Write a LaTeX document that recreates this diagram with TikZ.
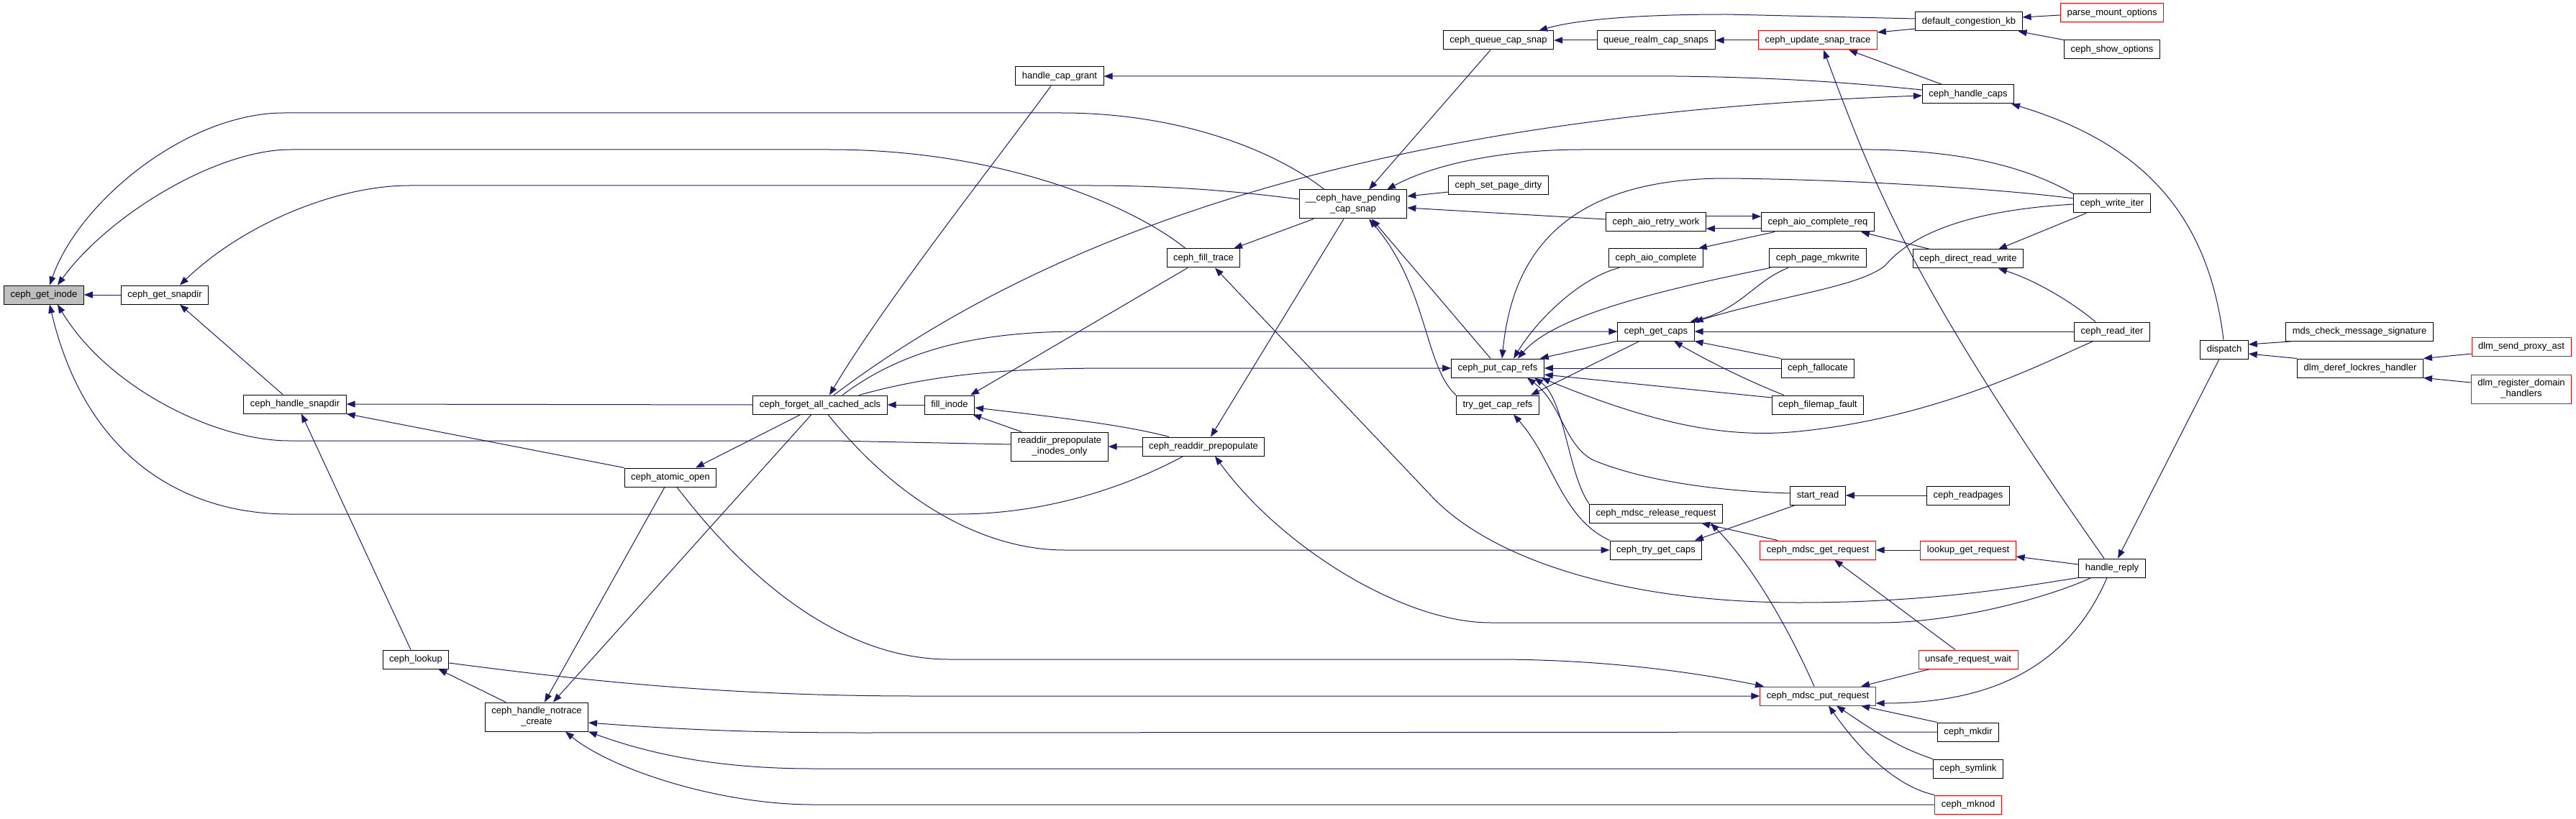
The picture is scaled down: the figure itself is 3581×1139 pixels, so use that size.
\documentclass[tikz,border=0pt]{standalone}
\usepackage{fontspec}
\setmainfont{Liberation Sans}
\usetikzlibrary{arrows.meta}
\definecolor{edgeblue}{RGB}{25,25,112}
\definecolor{rootgrey}{RGB}{191,191,191}
\tikzset{
  fn/.style={draw=black, line width=1pt, fill=white, font=\fontsize{13pt}{15pt}\selectfont,
    minimum height=26pt, inner xsep=9pt, inner ysep=2pt},
  fnred/.style={fn, draw=red},
  fnroot/.style={fn, fill=rootgrey},
  twoline/.style={align=center, minimum height=40pt},
  call/.style={draw=edgeblue, line width=1pt, {Triangle[length=12pt,width=9pt]}-},
}
\begin{document}
\begin{tikzpicture}[x=1pt, y=-1pt]
\useasboundingbox (0,0) rectangle (3581,1139);
% functions
\node[fnroot] (ginode) at (61,410) {ceph\_get\_inode};
\node[fn] (getsnapdir) at (229,410) {ceph\_get\_snapdir};
\node[fn] (handlesnapdir) at (410,562) {ceph\_handle\_snapdir};
\node[fn] (lookup) at (578,917) {ceph\_lookup};
\node[fn, twoline] (notrace) at (746,997) {ceph\_handle\_notrace\\\_create};
\node[fn] (atomicopen) at (932,664) {ceph\_atomic\_open};
\node[fn] (forgetacls) at (1140,563) {ceph\_forget\_all\_cached\_acls};
\node[fn] (capgrant) at (1473,106) {handle\_cap\_grant};
\node[fn] (fillinode) at (1320,563) {fill\_inode};
\node[fn, twoline] (prepinodes) at (1473,621) {readdir\_prepopulate\\\_inodes\_only};
\node[fn] (readdirprep) at (1673,621) {ceph\_readdir\_prepopulate};
\node[fn] (filltrace) at (1673,359) {ceph\_fill\_trace};
\node[fn, twoline] (havesnap) at (1881,284) {\_\_ceph\_have\_pending\\\_cap\_snap};
\node[fn] (queuesnap) at (2083,56) {ceph\_queue\_cap\_snap};
\node[fn] (setdirty) at (2083,258) {ceph\_set\_page\_dirty};
\node[fn] (putrefs) at (2082,512) {ceph\_put\_cap\_refs};
\node[fn] (trygetrefs) at (2082,563) {try\_get\_cap\_refs};
\node[fn] (realmsnaps) at (2302,56) {queue\_realm\_cap\_snaps};
\node[fn] (retrywork) at (2302,309) {ceph\_aio\_retry\_work};
\node[fn] (aiocomplete) at (2302,359) {ceph\_aio\_complete};
\node[fn] (getcaps) at (2302,461) {ceph\_get\_caps};
\node[fn] (releasereq) at (2302,714) {ceph\_mdsc\_release\_request};
\node[fn] (trygetcaps) at (2302,765) {ceph\_try\_get\_caps};
\node[fnred] (updatesnap) at (2527,56) {ceph\_update\_snap\_trace};
\node[fn] (completereq) at (2527,309) {ceph\_aio\_complete\_req};
\node[fn] (mkwrite) at (2527,359) {ceph\_page\_mkwrite};
\node[fn] (fallocate) at (2527,512) {ceph\_fallocate};
\node[fn] (filemapfault) at (2527,563) {ceph\_filemap\_fault};
\node[fn] (startread) at (2527,689) {start\_read};
\node[fnred] (getreq) at (2527,765) {ceph\_mdsc\_get\_request};
\node[fnred] (putreq) at (2527,968) {ceph\_mdsc\_put\_request};
\node[fn] (congestion) at (2737,30) {default\_congestion\_kb};
\node[fn] (handlecaps) at (2736,131) {ceph\_handle\_caps};
\node[fn] (directrw) at (2736,360) {ceph\_direct\_read\_write};
\node[fn] (readpages) at (2736,689) {ceph\_readpages};
\node[fnred] (lookupreq) at (2736,765) {lookup\_get\_request};
\node[fnred] (unsafewait) at (2736,917) {unsafe\_request\_wait};
\node[fn] (mkdir) at (2736,1018) {ceph\_mkdir};
\node[fn] (symlink) at (2736,1069) {ceph\_symlink};
\node[fnred] (mknod) at (2736,1119) {ceph\_mknod};
\node[fnred] (parseopts) at (2936,18) {parse\_mount\_options};
\node[fn] (showopts) at (2936,69) {ceph\_show\_options};
\node[fn] (writeiter) at (2936,283) {ceph\_write\_iter};
\node[fn] (readiter) at (2936,461) {ceph\_read\_iter};
\node[fn] (handlereply) at (2936,790) {handle\_reply};
\node[fn] (dispatch) at (3092,486) {dispatch};
\node[fn] (mdssig) at (3280,461) {mds\_check\_message\_signature};
\node[fn] (derefhandler) at (3281,512) {dlm\_deref\_lockres\_handler};
\node[fnred] (proxyast) at (3505,482) {dlm\_send\_proxy\_ast};
\node[fnred, twoline] (registerdomain) at (3505,541) {dlm\_register\_domain\\\_handlers};
% calls into ceph_get_inode and ceph_get_snapdir
\draw[call] (ginode.east) -- (getsnapdir.west);
\draw[call] ([xshift=8]ginode.north) .. controls (110,280) and (260,157) .. (395,157) -- (1475,157) .. controls (1650,157) and (1780,215) .. ([xshift=-40]havesnap.north);
\draw[call] ([xshift=19]ginode.north) .. controls (150,300) and (300,208) .. (404,208) -- (1153,208) .. controls (1400,208) and (1580,290) .. ([xshift=-25]filltrace.north);
\draw[call] ([xshift=19]ginode.south) .. controls (150,540) and (300,613) .. (402,613) -- (1160,613) -- ([yshift=3]prepinodes.west);
\draw[call] ([xshift=8]ginode.south) .. controls (120,640) and (260,715) .. (402,715) -- (1331,715) .. controls (1450,715) and (1560,680) .. ([xshift=-28]readdirprep.south);
\draw[call] ([xshift=21]getsnapdir.north) .. controls (340,310) and (470,258) .. (569,258) -- (1515,258) .. controls (1650,258) and (1750,270) .. ([yshift=7]havesnap.west);
\draw[call] ([xshift=21]getsnapdir.south) -- ([xshift=-17]handlesnapdir.north);
% left part
\draw[call] (handlesnapdir.east) -- (forgetacls.west);
\draw[call] (handlesnapdir.south east) -- (atomicopen.north west);
\draw[call] ([xshift=9]handlesnapdir.south) -- ([xshift=-7]lookup.north);
\draw[call] ([xshift=-15]lookup.south east) -- ([xshift=-43]notrace.north);
\draw[call] ([xshift=11]notrace.north) -- ([xshift=-8]atomicopen.south);
\draw[call] ([xshift=23]notrace.north) -- ([xshift=-12]forgetacls.south);
\draw[call] ([xshift=35]atomicopen.north) -- ([xshift=-27]forgetacls.south);
\draw[call] ([xshift=13]forgetacls.north) .. controls (1230,420) and (1380,230) .. ([xshift=-12]capgrant.south);
\draw[call] ([yshift=-2]handlecaps.west) .. controls (1900,160) and (1450,330) .. ([xshift=19]forgetacls.north);
\draw[call] (getcaps.west) -- (1500,461) .. controls (1350,461) and (1250,490) .. ([xshift=31]forgetacls.north);
\draw[call] (putrefs.west) -- (1550,512) .. controls (1400,512) and (1300,520) .. ([xshift=54]forgetacls.north);
\draw[call] (trygetcaps.west) -- (1480,765) .. controls (1370,765) and (1250,700) .. ([xshift=11]forgetacls.south);
\draw[call] (forgetacls.east) -- (fillinode.west);
\draw[call] ([xshift=-3]fillinode.south east) -- ([xshift=-53]prepinodes.north);
\draw[call] ([yshift=-4]fillinode.east) .. controls (1450,578) and (1560,590) .. ([xshift=-48]readdirprep.north);
\draw[call] ([xshift=29]fillinode.north) -- ([xshift=-22]filltrace.south);
\draw[call] (prepinodes.east) -- (readdirprep.west);
\draw[call] ([xshift=10]readdirprep.north) -- ([xshift=-13]havesnap.south);
\draw[call] ([xshift=16]readdirprep.south) .. controls (1780,760) and (1950,866) .. (2072,866) -- (2613,866) .. controls (2720,866) and (2850,830) .. ([xshift=-29]handlereply.south);
\draw[call] ([xshift=16]filltrace.south) -- (1990,690) .. controls (2070,775) and (2250,838) .. (2500,838) .. controls (2700,838) and (2830,812) .. (handlereply.south west);
\draw[call] ([xshift=42]filltrace.north) -- ([xshift=-55]havesnap.south);
% __ceph_have_pending_cap_snap
\draw[call] ([xshift=22]havesnap.north) -- ([xshift=-11]queuesnap.south);
\draw[call] ([yshift=11]havesnap.east) -- ([yshift=-9]setdirty.west);
\draw[call] ([yshift=-5]havesnap.east) -- ([yshift=4]retrywork.west);
\draw[call] ([xshift=47]havesnap.north) .. controls (2000,225) and (2100,208) .. (2200,208) -- (2600,208) .. controls (2750,210) and (2830,240) .. (writeiter.north west);
\draw[call] ([xshift=26]havesnap.south) -- ([xshift=-10]putrefs.north);
\draw[call] ([xshift=22]havesnap.south) .. controls (1985,400) and (1980,510) .. (trygetrefs.north west);
% snap trace
\draw[call] (queuesnap.east) -- (realmsnaps.west);
\draw[call] ([xshift=-21]queuesnap.north east) .. controls (2200,25) and (2300,20) .. (2400,20) -- ([yshift=4]congestion.west);
\draw[call] (realmsnaps.east) -- (updatesnap.west);
\draw[call] ([yshift=11]updatesnap.east) -- ([yshift=-10]congestion.west);
\draw[call] ([xshift=43]updatesnap.south) -- ([xshift=-36]handlecaps.north);
\draw[call] ([xshift=8]updatesnap.south) .. controls (2610,270) and (2660,400) .. ([xshift=-11]handlereply.north);
\draw[call] ([xshift=-4]handlecaps.south east) .. controls (2980,200) and (3070,300) .. ([xshift=-1]dispatch.north);
\draw[call] (capgrant.east) -- (2330,106) .. controls (2500,108) and (2600,118) .. ([yshift=6]handlecaps.west);
\draw[call] ([yshift=6]congestion.east) -- ([yshift=-3]parseopts.west);
\draw[call] ([xshift=-6]congestion.south east) -- (showopts.north west);
% aio and caps
\draw[call] ([yshift=8]completereq.west) -- ([yshift=8]retrywork.east);
\draw[call] ([yshift=-9]retrywork.east) -- ([yshift=-9]completereq.west);
\draw[call] ([xshift=-7]aiocomplete.north east) -- ([xshift=-60]completereq.south);
\draw[call] ([xshift=60]completereq.south) -- ([xshift=-53]directrw.north);
\draw[call] ([xshift=22]putrefs.north) .. controls (2140,440) and (2200,385) .. ([xshift=-51]aiocomplete.south);
\draw[call] ([xshift=28]putrefs.north) .. controls (2160,440) and (2300,405) .. ([xshift=-66]mkwrite.south);
\draw[call] ([xshift=6]putrefs.north) .. controls (2100,380) and (2150,248) .. (2400,248) .. controls (2600,250) and (2800,265) .. ([yshift=7]writeiter.west);
\draw[call] ([xshift=-6]getcaps.north east) .. controls (2420,430) and (2440,390) .. ([xshift=-41]mkwrite.south);
\draw[call] (getcaps.north east) .. controls (2480,410) and (2580,400) .. (2620,370) .. controls (2670,310) and (2780,290) .. ([yshift=-1]writeiter.west);
\draw[call] (getcaps.east) -- (readiter.west);
\draw[call] (getcaps.south east) -- (fallocate.north west);
\draw[call] ([xshift=25]getcaps.south) .. controls (2370,500) and (2430,530) .. ([xshift=-47]filemapfault.north);
\draw[call] ([xshift=-6]putrefs.north east) -- (getcaps.south west);
\draw[call] (putrefs.east) -- (fallocate.west);
\draw[call] ([yshift=-9]putrefs.east) -- ([yshift=10]filemapfault.west);
\draw[call] ([xshift=-12]trygetrefs.north east) -- ([xshift=-23]getcaps.south);
\draw[call] ([xshift=41]putrefs.south) .. controls (2170,560) and (2175,620) .. (2215,640) .. controls (2300,675) and (2420,684) .. ([yshift=3]startread.west);
\draw[call] ([xshift=51]putrefs.south) .. controls (2175,555) and (2180,660) .. (releasereq.north west);
\draw[call] ([xshift=-4]putrefs.south east) .. controls (2300,590) and (2400,610) .. (2500,600) .. controls (2700,580) and (2850,500) .. ([xshift=-26]readiter.south);
\draw[call] ([xshift=22]trygetrefs.south) .. controls (2160,640) and (2170,720) .. (trygetcaps.north west);
\draw[call] ([xshift=54]trygetcaps.north) -- ([xshift=-31]startread.south);
\draw[call] (startread.east) -- (readpages.west);
% mds requests
\draw[call] ([xshift=63]releasereq.south) -- ([xshift=-56]getreq.north);
\draw[call] ([xshift=76]releasereq.south) .. controls (2430,780) and (2480,860) .. ([xshift=-5]putreq.north);
\draw[call] (getreq.east) -- (lookupreq.west);
\draw[call] ([xshift=23]getreq.south) -- ([xshift=-18]unsafewait.north);
\draw[call] ([yshift=-9]lookupreq.east) -- ([yshift=5]handlereply.west);
\draw[call] ([xshift=-75]putreq.north) .. controls (2380,940) and (2250,917) .. (2078,917) -- (1320,917) .. controls (1180,917) and (1050,820) .. ([xshift=9]atomicopen.south);
\draw[call] (putreq.west) -- (1274,968) .. controls (1000,968) and (800,945) .. ([yshift=-5]lookup.east);
\draw[call] ([xshift=60]putreq.north) -- ([xshift=-53]unsafewait.south);
\draw[call] ([yshift=-10]putreq.east) .. controls (2750,978) and (2870,940) .. ([xshift=-7]handlereply.south);
\draw[call] ([xshift=60]putreq.south) -- (mkdir.north west);
\draw[call] ([xshift=26]putreq.south) .. controls (2610,1020) and (2640,1040) .. (symlink.north west);
\draw[call] ([xshift=15]putreq.south) .. controls (2590,1050) and (2640,1095) .. (mknod.north west);
\draw[call] ([yshift=-8]notrace.east) .. controls (950,1015) and (1050,1019) .. (1200,1019) -- (mkdir.west);
\draw[call] (notrace.south east) .. controls (920,1055) and (1020,1069) .. (1130,1069) -- (symlink.west);
\draw[call] ([xshift=40]notrace.south) .. controls (850,1070) and (1000,1119) .. (1130,1119) -- (mknod.west);
% dispatch side
\draw[call] ([xshift=8]handlereply.north) -- ([xshift=-7]dispatch.south);
\draw[call] ([yshift=7]dispatch.east) -- ([xshift=12]mdssig.south west);
\draw[call] ([yshift=-6]dispatch.east) -- (derefhandler.north west);
\draw[call] (derefhandler.north east) -- ([yshift=-10]proxyast.west);
\draw[call] (derefhandler.south east) -- ([yshift=9]registerdomain.west);
\draw[call] ([xshift=42]directrw.north) -- ([xshift=-36]writeiter.south);
\draw[call] ([xshift=42]directrw.south) .. controls (2830,390) and (2880,420) .. ([xshift=-23]readiter.north);
\end{tikzpicture}
\end{document}
